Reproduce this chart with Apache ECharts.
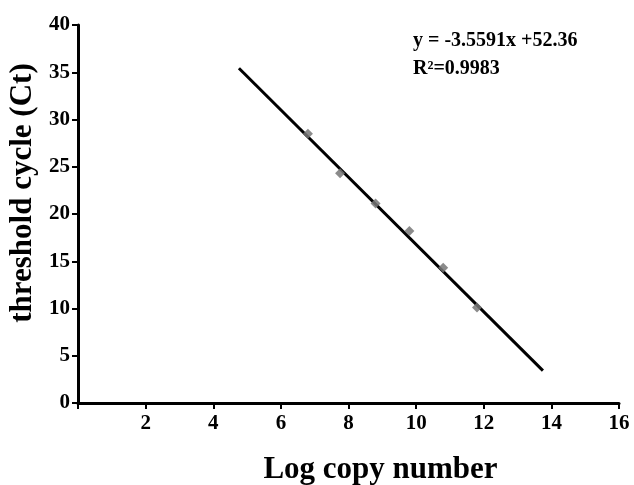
<!DOCTYPE html>
<html>
<head>
<meta charset="utf-8">
<script src="https://cdn.jsdelivr.net/npm/echarts@6/dist/echarts.min.js"></script>
<style>
  html, body { margin: 0; padding: 0; background: #fff; }
  #chart { width: 634px; height: 485px; }
</style>
</head>
<body>
<div id="chart"></div>
<script>
// standard curve points (log copy number vs Ct)
const logCopy = [6.8, 7.75, 8.8, 9.8, 10.8, 11.8];
const ctValues = [28.5, 24.3, 21.1, 18.2, 14.3, 10.1];

// fitted line from the equation shown on the chart
const slope = -3.5591;
const intercept = 52.36;
const fitRange = [4.76, 13.75];

const xTicks = [0, 2, 4, 6, 8, 10, 12, 14, 16];
const yTicks = [0, 5, 10, 15, 20, 25, 30, 35, 40];

const font = '"Liberation Serif", "Times New Roman", serif';

const chart = echarts.init(document.getElementById('chart'));

const fitLine = fitRange.map(x => [x, slope * x + intercept]);
const points = logCopy.map((x, i) => [x, ctValues[i]]);

const option = {
  animation: false,
  grid: { left: 78, right: 15, top: 25, bottom: 82, outerBoundsMode: 'none', containLabel: false },
  xAxis: {
    type: 'value',
    min: xTicks[0],
    max: xTicks[xTicks.length - 1],
    interval: 2,
    name: 'Log copy number',
    nameLocation: 'middle',
    nameGap: 51,
    nameTextStyle: {
      fontFamily: font, fontWeight: 'bold', fontSize: 31, color: '#000',
      padding: [0, 0, 0, 64]
    },
    axisLine: { lineStyle: { color: '#000', width: 3 } },
    axisTick: { length: 6, lineStyle: { color: '#000', width: 2 } },
    axisLabel: {
      fontFamily: font, fontWeight: 'bold', fontSize: 21, color: '#000', margin: 10,
      formatter: v => (v === 0 ? '' : v)
    },
    splitLine: { show: false }
  },
  yAxis: {
    type: 'value',
    min: yTicks[0],
    max: yTicks[yTicks.length - 1],
    interval: 5,
    name: 'threshold cycle (Ct)',
    nameLocation: 'middle',
    nameGap: 38,
    nameTextStyle: {
      fontFamily: font, fontWeight: 'bold', fontSize: 31, color: '#000',
      padding: [0, 0, 0, 42]
    },
    axisLine: { show: true, lineStyle: { color: '#000', width: 3 } },
    axisTick: { show: true, length: 6, lineStyle: { color: '#000', width: 2 } },
    axisLabel: { fontFamily: font, fontWeight: 'bold', fontSize: 21, color: '#000', margin: 8 },
    splitLine: { show: false }
  },
  series: [
    {
      type: 'line',
      data: fitLine,
      symbol: 'none',
      lineStyle: { color: '#000', width: 3 },
      z: 2
    },
    {
      type: 'scatter',
      data: points,
      symbol: 'diamond',
      symbolSize: 10,
      itemStyle: { color: '#777', opacity: 0.85 },
      z: 3
    }
  ],
  graphic: [
    {
      type: 'text', left: 413, top: 31,
      style: { text: 'y = -3.5591x +52.36', font: 'bold 20px ' + font, fill: '#000' }
    },
    {
      type: 'text', left: 413, top: 59,
      style: { text: 'R²=0.9983', font: 'bold 20px ' + font, fill: '#000' }
    }
  ]
};

chart.setOption(option);
</script>
</body>
</html>
